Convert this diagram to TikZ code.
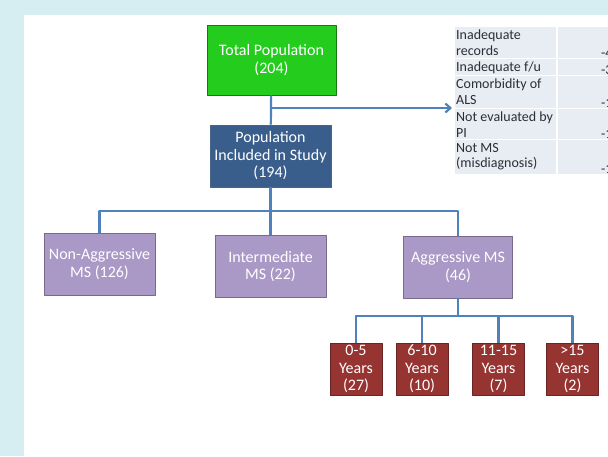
\documentclass[tikz,border=0pt]{standalone}
\usepackage{fontspec}
\setmainfont{Carlito}
\usetikzlibrary{positioning,arrows.meta}
\definecolor{slidebg}{RGB}{214,238,241}
\definecolor{linkblue}{RGB}{79,129,189}
\definecolor{totgreen}{RGB}{36,204,30}
\definecolor{studyblue}{RGB}{58,94,140}
\definecolor{lavender}{RGB}{170,152,198}
\definecolor{yearred}{RGB}{150,52,50}
\definecolor{tablebg}{RGB}{232,236,243}
\definecolor{tabletext}{RGB}{45,45,55}

\begin{document}
\begin{tikzpicture}[x=1pt, y=-1pt, >={Straight Barb[length=5pt,width=9pt]}, line join=round,
  box/.style={draw, line width=0.8pt, text=white, align=center, inner sep=1pt,
    font=\fontsize{16}{17.5}\selectfont},
  link/.style={draw=linkblue, line width=2.2pt},
  cell/.style={text=tabletext, align=left, inner xsep=1pt, inner ysep=3pt,
    font=\fontsize{14}{15.5}\selectfont},
  ]
  \useasboundingbox (0,0) rectangle (608,456);
  \fill[slidebg] (0,0) rectangle (608,456);
  \fill[white] (24,15) rectangle (608,456);
  \clip (0,0) rectangle (608,456);

  % top of the chart
  \node[box, fill=totgreen, draw=totgreen!60!black, minimum width=129pt, minimum height=70pt]
    (total) at (271.5,60) {Total Population\\(204)};
  \node[box, fill=studyblue, draw=studyblue!80!gray, minimum width=121pt, minimum height=62pt]
    (study) at (270.5,156) {Population\\Included in Study\\(194)};

  % excluded cases
  \foreach \top/\bot/\lbl/\num [count=\i] in {27/59/{Inadequate\\records}/-4,
      59/76/{Inadequate f/u}/-3, 76/109/{Comorbidity of\\ALS}/-1,
      109/140/{Not evaluated by\\PI}/-1, 140/175/{Not MS\\(misdiagnosis)}/-1} {
    \fill[tablebg] (455,\top) rectangle (556,\bot);
    \fill[tablebg] (558,\top) rectangle (620,\bot);
    \draw[white, line width=1.2pt] (455,\bot) -- (620,\bot);
    \node[cell, anchor=north west] (why\i) at (455,\top) {\lbl};
    \node[cell, anchor=south west, inner ysep=1.5pt] (cnt\i) at (600,\bot) {\num};
  }
  \coordinate (excl) at (452,108);

  % three groups
  \node[box, fill=lavender, draw=lavender!70!black, minimum width=111pt, minimum height=62pt]
    (nonagg) at (99.5,264) {Non-Aggressive\\MS (126)};
  \node[box, fill=lavender, draw=lavender!70!black, minimum width=111pt, minimum height=62pt]
    (inter) at (270.5,266.5) {Intermediate\\MS (22)};
  \node[box, fill=lavender, draw=lavender!70!black, minimum width=109pt, minimum height=62pt]
    (agg) at (458,267) {Aggressive MS\\(46)};

  % years since onset
  \node[box, fill=yearred, draw=yearred!70!black, minimum width=52pt, minimum height=52pt]
    (y1) at (356,369) {0-5\\Years\\(27)};
  \node[box, fill=yearred, draw=yearred!70!black, minimum width=52pt, minimum height=52pt]
    (y2) at (422,369) {6-10\\Years\\(10)};
  \node[box, fill=yearred, draw=yearred!70!black, minimum width=52pt, minimum height=52pt]
    (y3) at (498.5,369) {11-15\\Years\\(7)};
  \node[box, fill=yearred, draw=yearred!70!black, minimum width=52pt, minimum height=52pt]
    (y4) at (572.5,369) {>15\\Years\\(2)};

  % connectors
  \draw[link] (total) -- (study);
  \coordinate (split) at (total.south |- excl);
  \draw[link, ->] (split) -- (excl);
  \coordinate (bus) at (0,211);
  \draw[link] (study.south) -- (study.south |- bus);
  \draw[link] (nonagg.north) |- (bus -| agg.north) -- (agg.north);
  \draw[link] (inter.north) -- (inter.north |- bus);
  \coordinate (yrbus) at (0,316);
  \draw[link] (agg.south) -- (agg.south |- yrbus);
  \draw[link] (y1.north) |- (yrbus -| y4.north) -- (y4.north);
  \draw[link] (y2.north) -- (y2.north |- yrbus);
  \draw[link] (y3.north) -- (y3.north |- yrbus);
\end{tikzpicture}
\end{document}
